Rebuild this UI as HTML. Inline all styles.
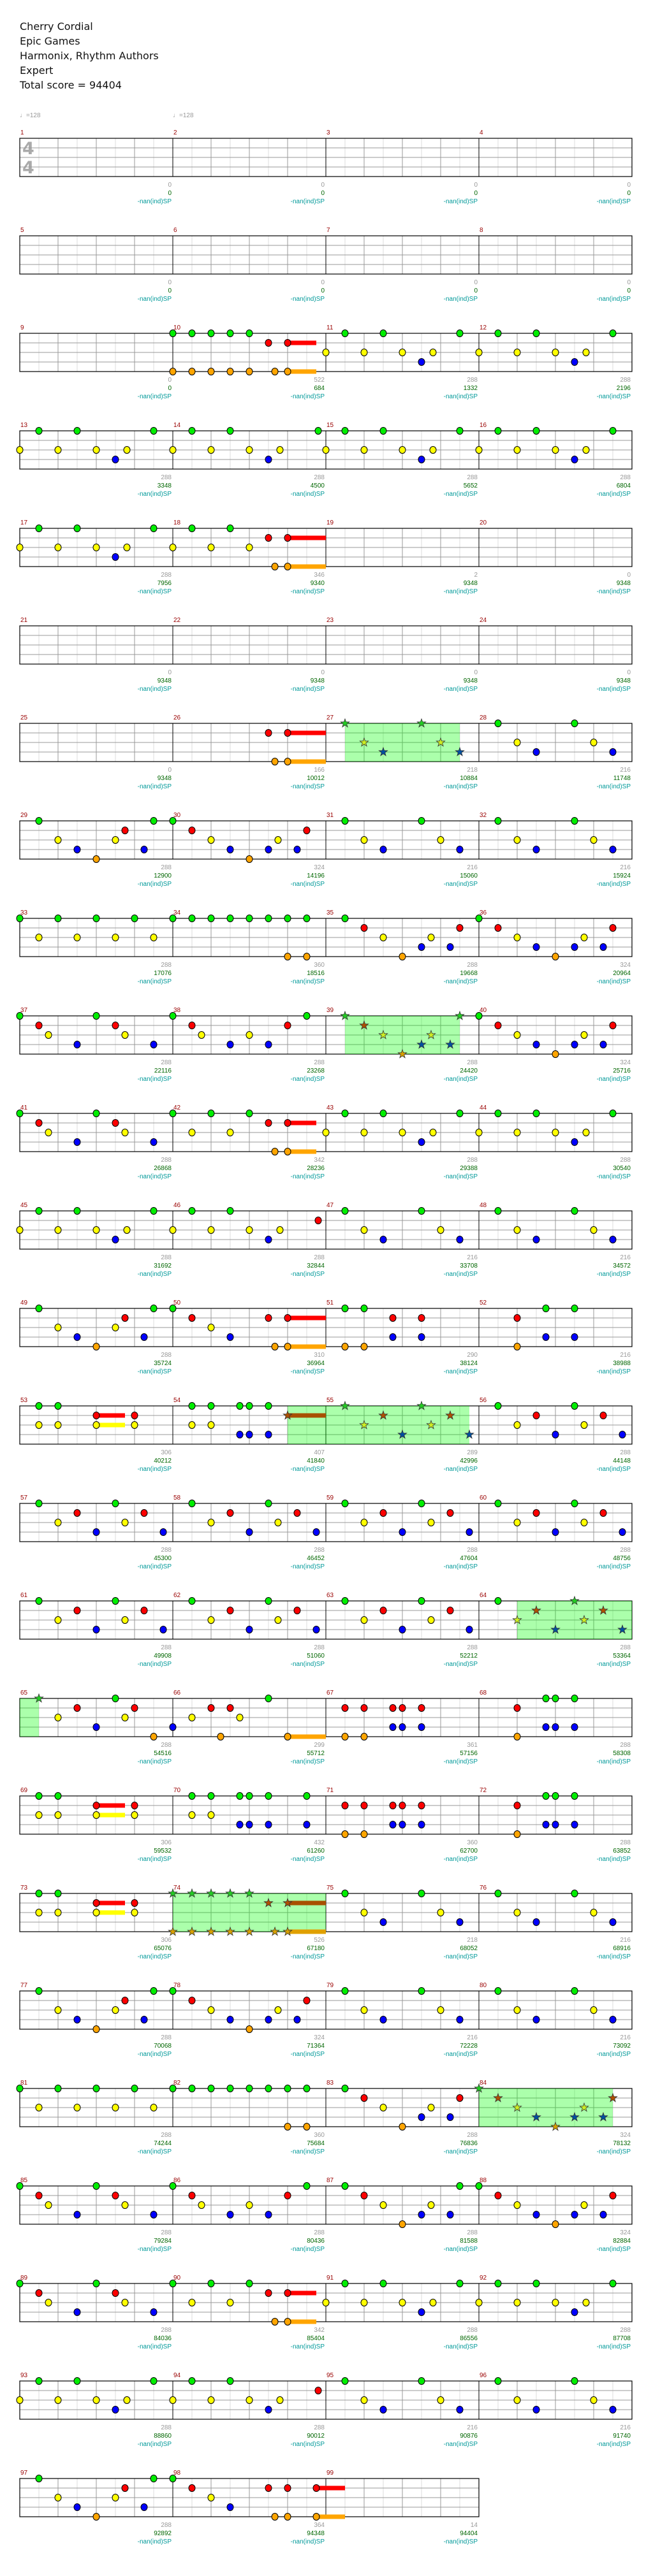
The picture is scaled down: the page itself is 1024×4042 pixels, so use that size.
<!DOCTYPE html>
<html><head><meta charset="utf-8">
<style>
html,body{margin:0;padding:0;background:#fff;}
body{width:1024px;height:4042px;overflow:hidden;position:relative;}
.t{position:absolute;left:31px;font-family:"DejaVu Sans","Liberation Sans",sans-serif;font-size:16px;color:#111;line-height:23px;}
svg{position:absolute;left:0;top:0;}
</style></head><body>
<div class="t" style="top:30px">Cherry Cordial<br>Epic Games<br>Harmonix, Rhythm Authors<br>Expert<br>Total score = 94404</div>
<svg id="s" width="1024" height="4042" xmlns="http://www.w3.org/2000/svg" font-family="Liberation Sans, DejaVu Sans, sans-serif">
<text x="31" y="184" font-size="10" fill="#999">♩=128</text>
<text x="271" y="184" font-size="10" fill="#999">♩=128</text>
<text x="35" y="242" font-size="27" font-weight="bold" fill="#aaa" font-family="DejaVu Sans, sans-serif">4</text>
<text x="35" y="272" font-size="27" font-weight="bold" fill="#aaa" font-family="DejaVu Sans, sans-serif">4</text>
</svg>
<script>
(function(){
var svg=document.getElementById('s');var NS='http://www.w3.org/2000/svg';
var out=[];
function mx(m){return 31+240*((m-1)%4);}
function tp(m){return 217+153*Math.floor((m-1)/4);}
// grid rows
for(var r=0;r<25;r++){
 var n=(r==24)?3:4,y=217+153*r,w=240*n,i,x;
 for(i=1;i<8*n;i+=2){x=31+30*i;out.push('<line x1="'+x+'" y1="'+y+'" x2="'+x+'" y2="'+(y+60)+'" stroke="#dcdcdc" stroke-width="1"/>');}
 for(i=1;i<4;i++){out.push('<line x1="31" y1="'+(y+15*i)+'" x2="'+(31+w)+'" y2="'+(y+15*i)+'" stroke="#999" stroke-width="1"/>');}
 for(i=2;i<8*n;i+=2){if(i%8==0)continue;x=31+30*i;out.push('<line x1="'+x+'" y1="'+y+'" x2="'+x+'" y2="'+(y+60)+'" stroke="#999" stroke-width="1"/>');}
 for(i=1;i<n;i++){x=31+240*i;out.push('<line x1="'+x+'" y1="'+y+'" x2="'+x+'" y2="'+(y+60)+'" stroke="#000" stroke-width="1"/>');}
 out.push('<rect x="31" y="'+y+'" width="'+w+'" height="60" fill="none" stroke="#000" stroke-width="1.2"/>');
}
// SP bands
var bands=[[27,2,14],[39,2,14],[54,12,16],[55,0,15],[64,4,16],[65,0,2],[74,0,16],[84,0,14]];
bands.forEach(function(b){var x=mx(b[0]),y=tp(b[0]);out.push('<rect x="'+(x+b[1]*15)+'" y="'+y+'" width="'+((b[2]-b[1])*15)+'" height="60" fill="#00ff00" fill-opacity="0.33"/>');});
var P={
A:"g2 g6 g14 y0 y4 y8 y11.2 b10",
B:"g2 g10 y4 y12 b6 b14",
C:"g2 g14 y4 y10 b6 b13 r11 o8",
D:"g0 r2 r14 y4 y11 b6 b10 b13 o8",
E:"g0 g4 g8 g12 y2 y6 y10 y14",
F:"g0 g2 g4 g6 g8 g10 g12 g14 o12 o14",
G:"g2 r4 r14 y6 y11 b10 b13 o8",
I:"g0 g8 r2 r10 y3 y11 b6 b14",
J:"g0 g14 r2 r12 y3 y8 b6 b10",
K:"g0 g4 g8 y2 y6 r10 r12-15 o10.67 o12-15",
L:"g2 g10 r6 r13 y4 y11 b8 b15",
M46:"g2 g6 y0 y4 y8 y11.2 b10 r15.2",
M53:"g2 g4 y2 y4 r8-11 r12 y8-11 y12",
M67:"r2 r4 r7 r8 r10 b7 b8 b10 o2 o4",
M68:"r4 o4 g7 g8 g10 b7 b8 b10"
};
var N={10:"g0 g2 g4 g6 g8 r10 r12-15 o0 o2 o4 o6 o8 o10.67 o12-15",11:"A",12:"A",13:"A",14:"g2 g6 g15.2 y0 y4 y8 y11.2 b10",15:"A",16:"A",17:"A",
18:"g2 g6 y0 y4 y8 r10 r12-16 o10.67 o12-16",26:"r10 r12-16 o10.67 o12-16",27:"*B",28:"B",
29:"C",30:"D",31:"B",32:"B",33:"E",34:"F",35:"G",36:"D",37:"I",38:"J",39:"G2 G14 R4 Y6 Y11 B10 B13 O8",40:"D",
41:"I",42:"K",43:"A",44:"A",45:"A",46:"M46",47:"B",48:"B",49:"C",50:"g0 r2 r10 r12-16 y4 b6 o10.67 o12-16",
51:"g2 g4 o2 o4 r7 r10 b7 b10",52:"r4 o4 g7 g10 b7 b10",53:"M53",54:"g2 g4 g7 g8 g10 y2 y4 b7 b8 b10 R12-16",55:"*L",
56:"L",57:"L",58:"L",59:"L",60:"L",61:"L",62:"L",63:"L",64:"g2 Y4 R6 B8 G10 Y11 R13 B15",
65:"G2 g10 r6 r12 y4 y11 b8 o14",66:"b0 y2 y7 r4 r6 o5 g10 o12-16",67:"M67",68:"M68",
69:"M53",70:"g2 g4 g7 g8 g10 g14 y2 y4 b7 b8 b10 b14",71:"M67",72:"M68",
73:"M53",74:"G0 G2 G4 G6 G8 R10 R12-16 O0 O2 O4 O6 O8 O10.67 O12-16",75:"B",76:"B",
77:"C",78:"D",79:"B",80:"B",81:"E",82:"F",83:"G",84:"*D",85:"I",86:"J",87:"g2 g14 r4 y6 y11 b10 b13 o8",88:"D",
89:"I",90:"K",91:"A",92:"A",93:"A",94:"M46",95:"B",96:"B",97:"C",98:"g0 r2 r10 r12 r15-18 y4 b6 o10.67 o12 o15-18"};
var LC={g:0,r:1,y:2,b:3,o:4};
var col=['#00ee00','#ff0000','#ffff00','#0000ff','#ffa500'];
var scol=['#22cc22','#b05000','#ccee22','#0050a0','#d8a000'];
var ssus=['#22cc22','#a85000','#ccee22','#0050a0','#e0a000'];
var notes=[],sus=[];
for(var m in N){
 var s=N[m],star=false;
 if(s.charAt(0)=='*'){star=true;s=s.substr(1);}
 if(P[s])s=P[s];
 var x0=mx(+m),y0=tp(+m);
 s.split(' ').forEach(function(t){
  var c=t.charAt(0),st=star||(c!=c.toLowerCase());
  var l=LC[c.toLowerCase()];var rest=t.substr(1).split('-');
  var p=parseFloat(rest[0]);var x=x0+p*15,y=y0+l*15;
  if(rest.length>1){var e=parseFloat(rest[1]);sus.push('<rect x="'+x+'" y="'+(y-3.5)+'" width="'+((e-p)*15)+'" height="7" fill="'+(st?ssus[l]:col[l])+'"/>');}
  if(st){var pts=[];for(var k=0;k<10;k++){var a=-Math.PI/2+k*Math.PI/5,rr=(k%2?2.8:7);pts.push((x+rr*Math.cos(a)).toFixed(1)+','+(y+rr*Math.sin(a)).toFixed(1));}
   notes.push('<polygon points="'+pts.join(' ')+'" fill="'+scol[l]+'" stroke="#333" stroke-width="0.8"/>');}
  else notes.push('<ellipse cx="'+x+'" cy="'+y+'" rx="5" ry="5.5" fill="'+col[l]+'" stroke="#000" stroke-width="1"/>');
 });
}
out=out.concat(sus,notes);
var S="0/0 0/0 0/0 0/0 0/0 0/0 0/0 0/0 0/0 522/684 288/1332 288/2196 288/3348 288/4500 288/5652 288/6804 288/7956 346/9340 2/9348 0/9348 0/9348 0/9348 0/9348 0/9348 0/9348 166/10012 218/10884 216/11748 288/12900 324/14196 216/15060 216/15924 288/17076 360/18516 288/19668 324/20964 288/22116 288/23268 288/24420 324/25716 288/26868 342/28236 288/29388 288/30540 288/31692 288/32844 216/33708 216/34572 288/35724 310/36964 290/38124 216/38988 306/40212 407/41840 289/42996 288/44148 288/45300 288/46452 288/47604 288/48756 288/49908 288/51060 288/52212 288/53364 288/54516 299/55712 361/57156 288/58308 306/59532 432/61260 360/62700 288/63852 306/65076 526/67180 218/68052 216/68916 288/70068 324/71364 216/72228 216/73092 288/74244 360/75684 288/76836 324/78132 288/79284 288/80436 288/81588 324/82884 288/84036 342/85404 288/86556 288/87708 288/88860 288/90012 216/90876 216/91740 288/92892 364/94348 14/94404".split(' ');
for(var m=1;m<=99;m++){
 var x=mx(m),y=tp(m),e=x+240-2,v=S[m-1].split('/');
 out.push('<text x="'+(x+1)+'" y="'+(y-6)+'" font-size="10" fill="#990000">'+m+'</text>');
 out.push('<text x="'+e+'" y="'+(y+76)+'" font-size="10" fill="#999" text-anchor="end">'+v[0]+'</text>');
 out.push('<text x="'+e+'" y="'+(y+89)+'" font-size="10" fill="#006600" text-anchor="end">'+v[1]+'</text>');
 out.push('<text x="'+e+'" y="'+(y+102)+'" font-size="10" fill="#009999" text-anchor="end">-nan(ind)SP</text>');
}
svg.insertAdjacentHTML('beforeend',out.join(''));
})();
</script>
</body></html>
